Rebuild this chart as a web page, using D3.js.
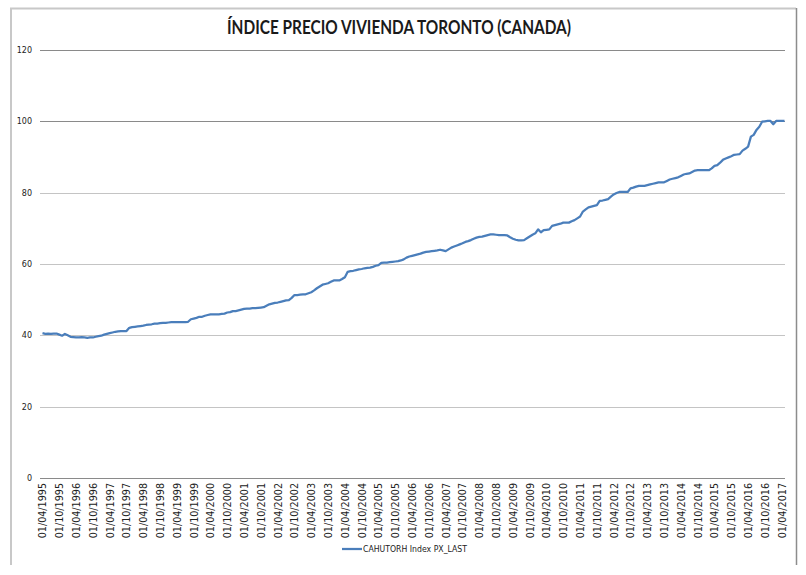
<!DOCTYPE html>
<html>
<head>
<meta charset="utf-8">
<script src="https://cdn.jsdelivr.net/npm/d3@7"></script>
<style>
  html, body { margin: 0; padding: 0; background: #ffffff; }
  svg { display: block; }
</style>
</head>
<body>
<svg id="chart" width="806" height="575"></svg>
<script>
// ---- DATA ----
const chartTitle = "ÍNDICE PRECIO VIVIENDA TORONTO (CANADA)";
const seriesName = "CAHUTORH Index PX_LAST";
const startYear = 1995;
const startMonth = 4; // April 1995, monthly observations

const values1995 = [40.6, 40.4, 40.5, 40.4, 40.5, 40.5, 40.2, 39.9, 40.4];
const values1996 = [40.0, 39.6, 39.5, 39.4, 39.4, 39.5, 39.4, 39.3, 39.4, 39.4, 39.6, 39.8];
const values1997 = [39.9, 40.2, 40.4, 40.6, 40.8, 41.0, 41.1, 41.2, 41.2, 41.2, 42.1, 42.3];
const values1998 = [42.4, 42.5, 42.6, 42.7, 42.9, 43.0, 43.1, 43.3, 43.3, 43.4, 43.5, 43.5];
const values1999 = [43.6, 43.7, 43.7, 43.7, 43.7, 43.7, 43.7, 43.8, 44.5, 44.7, 44.9, 45.2];
const values2000 = [45.2, 45.5, 45.7, 45.9, 45.9, 45.9, 45.9, 46.0, 46.1, 46.4, 46.5, 46.8];
const values2001 = [46.8, 47.0, 47.2, 47.4, 47.5, 47.5, 47.6, 47.6, 47.7, 47.8, 47.9, 48.3];
const values2002 = [48.7, 48.9, 49.1, 49.2, 49.4, 49.6, 49.8, 49.9, 50.5, 51.3, 51.3, 51.4];
const values2003 = [51.5, 51.5, 51.8, 52.1, 52.6, 53.2, 53.7, 54.2, 54.4, 54.6, 55.0, 55.4];
const values2004 = [55.4, 55.4, 55.8, 56.3, 57.8, 58.0, 58.1, 58.3, 58.5, 58.6, 58.8, 58.9];
const values2005 = [59.0, 59.2, 59.5, 59.7, 60.3, 60.4, 60.4, 60.5, 60.6, 60.7, 60.8, 61.0];
const values2006 = [61.3, 61.8, 62.1, 62.3, 62.5, 62.7, 62.9, 63.2, 63.4, 63.5, 63.6, 63.7];
const values2007 = [63.8, 64.0, 63.8, 63.6, 64.1, 64.6, 64.9, 65.2, 65.5, 65.8, 66.2, 66.4];
const values2008 = [66.7, 67.1, 67.4, 67.6, 67.7, 67.9, 68.1, 68.3, 68.3, 68.2, 68.1, 68.1];
const values2009 = [68.1, 68.0, 67.5, 67.1, 66.8, 66.6, 66.6, 66.7, 67.2, 67.7, 68.2, 68.6];
const values2010 = [69.7, 68.9, 69.5, 69.6, 69.7, 70.7, 70.9, 71.1, 71.3, 71.6, 71.6, 71.6];
const values2011 = [72.0, 72.3, 72.8, 73.3, 74.7, 75.3, 75.9, 76.1, 76.3, 76.5, 77.7, 77.8];
const values2012 = [78.0, 78.2, 78.9, 79.5, 79.9, 80.2, 80.2, 80.2, 80.2, 81.2, 81.4, 81.7];
const values2013 = [81.9, 81.9, 81.9, 82.1, 82.3, 82.5, 82.7, 82.9, 82.9, 82.9, 83.3, 83.7];
const values2014 = [83.9, 84.1, 84.3, 84.7, 85.1, 85.3, 85.4, 85.8, 86.2, 86.3, 86.3, 86.3];
const values2015 = [86.3, 86.3, 86.8, 87.5, 87.7, 88.4, 89.2, 89.6, 89.9, 90.2, 90.6, 90.7];
const values2016 = [90.8, 91.8, 92.3, 92.9, 95.7, 96.2, 97.6, 98.5, 99.9, 100.0, 100.1, 100.1];
const values2017 = [99.2, 100.1, 100.1, 100.1, 100.1];

const xTickLabels = [
  "01/04/1995","01/10/1995","01/04/1996","01/10/1996","01/04/1997","01/10/1997",
  "01/04/1998","01/10/1998","01/04/1999","01/10/1999","01/04/2000","01/10/2000",
  "01/04/2001","01/10/2001","01/04/2002","01/10/2002","01/04/2003","01/10/2003",
  "01/04/2004","01/10/2004","01/04/2005","01/10/2005","01/04/2006","01/10/2006",
  "01/04/2007","01/10/2007","01/04/2008","01/10/2008","01/04/2009","01/10/2009",
  "01/04/2010","01/10/2010","01/04/2011","01/10/2011","01/04/2012","01/10/2012",
  "01/04/2013","01/10/2013","01/04/2014","01/10/2014","01/04/2015","01/10/2015",
  "01/04/2016","01/10/2016","01/04/2017"
];
const yTickValues = [0, 20, 40, 60, 80, 100, 120];

// ---- BUILD ----
const values = [].concat(values1995, values1996, values1997, values1998, values1999,
  values2000, values2001, values2002, values2003, values2004, values2005, values2006,
  values2007, values2008, values2009, values2010, values2011, values2012, values2013,
  values2014, values2015, values2016, values2017);
const data = values.map((v, i) => ({ i, v }));

const svg = d3.select("#chart");

// frame
svg.append("path")
  .attr("d", "M11,565 L11,8.5 L796,8.5")
  .attr("fill", "none").attr("stroke", "#c8c8c8").attr("stroke-width", 2);
svg.append("line")
  .attr("x1", 796.5).attr("x2", 796.5).attr("y1", 8).attr("y2", 565)
  .attr("stroke", "#8c8c8c").attr("stroke-width", 1.5);

const x = d3.scaleLinear().domain([0, values.length - 1]).range([42.5, 42.5 + (values.length - 1) * 2.8]);
const y = d3.scaleLinear().domain([0, 120]).range([478, 50]);

// title
svg.append("text")
  .attr("x", 399).attr("y", 34)
  .attr("text-anchor", "middle")
  .attr("font-family", "Lato, 'Open Sans', sans-serif")
  .attr("font-weight", "bold")
  .attr("font-size", 18)
  .attr("fill", "#1a1a1a")
  .attr("textLength", 344).attr("lengthAdjust", "spacingAndGlyphs")
  .text(chartTitle);

// gridlines
svg.append("g").selectAll("line")
  .data(yTickValues.filter(d => d > 0))
  .join("line")
  .attr("x1", 40).attr("x2", 785)
  .attr("y1", d => Math.round(y(d)) + 0.5).attr("y2", d => Math.round(y(d)) + 0.5)
  .attr("stroke", d => d >= 100 ? "#8a8a8a" : "#c4c4c4")
  .attr("stroke-width", 1.2);

// y axis labels
const yAxis = d3.axisLeft(y).tickValues(yTickValues).tickSize(0).tickPadding(0);
const gy = svg.append("g").attr("transform", "translate(32,0)").call(yAxis);
gy.select(".domain").remove();
gy.selectAll("text")
  .attr("font-family", "'DejaVu Sans', sans-serif")
  .attr("font-size", 8)
  .attr("fill", "#222");

// x axis
const tickIdx = xTickLabels.map((_, k) => k * 6);
const xAxis = d3.axisBottom(x).tickValues(tickIdx).tickSize(0).tickPadding(0)
  .tickFormat((d, k) => xTickLabels[k]);
const gx = svg.append("g").attr("transform", "translate(0,478)").call(xAxis);
gx.select(".domain").remove();
gx.selectAll("text")
  .attr("font-family", "'DejaVu Sans', sans-serif")
  .attr("font-size", 9.6)
  .attr("fill", "#222")
  .attr("text-anchor", "end")
  .attr("dy", "0.35em")
  .attr("transform", "translate(0,5) rotate(-90)")
  .attr("x", 0).attr("y", 0);

// x axis line
svg.append("line")
  .attr("x1", 40).attr("x2", 785).attr("y1", 478.5).attr("y2", 478.5)
  .attr("stroke", "#8a8a8a").attr("stroke-width", 1.2);

// series line
const line = d3.line().x(d => x(d.i)).y(d => y(d.v));
svg.append("path")
  .datum(data)
  .attr("d", line)
  .attr("fill", "none")
  .attr("stroke", "#4a7ebb")
  .attr("stroke-width", 2.25)
  .attr("stroke-linejoin", "round");

// legend
svg.append("line")
  .attr("x1", 342).attr("x2", 362).attr("y1", 549).attr("y2", 549)
  .attr("stroke", "#4a7ebb").attr("stroke-width", 2.25);
svg.append("text")
  .attr("x", 363).attr("y", 552)
  .attr("font-family", "'DejaVu Sans', sans-serif")
  .attr("font-size", 8)
  .attr("fill", "#222")
  .attr("textLength", 104).attr("lengthAdjust", "spacingAndGlyphs")
  .text(seriesName);
</script>
</body>
</html>
